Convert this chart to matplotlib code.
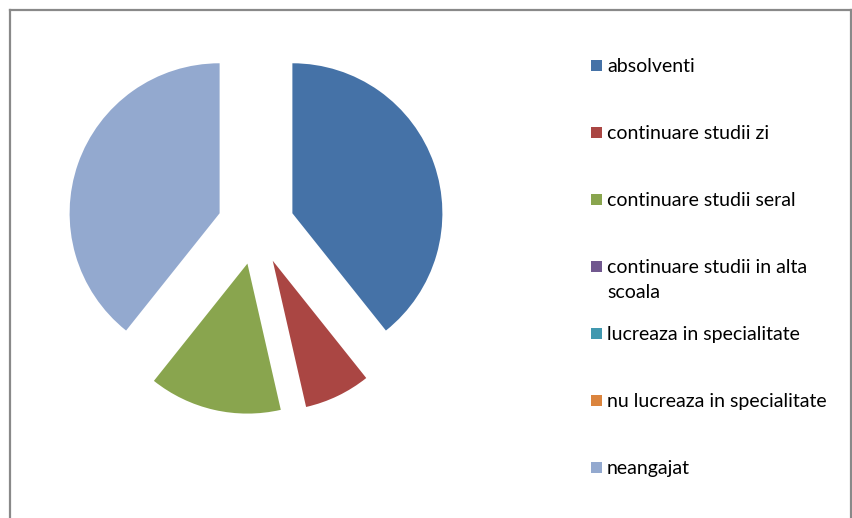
import matplotlib
matplotlib.use("Agg")
import matplotlib.pyplot as plt
from matplotlib.lines import Line2D
from matplotlib.patches import Rectangle

labels = ["absolventi", "continuare studii zi", "continuare studii seral",
          "continuare studii in alta\nscoala", "lucreaza in specialitate",
          "nu lucreaza in specialitate", "neangajat"]
values = [11, 2, 4, 0, 0, 0, 11]
colors = ["#4572A7", "#AA4643", "#89A54E", "#71588F", "#4198AF", "#DB843D", "#93A9CF"]

W, H = 852, 518
fig = plt.figure(figsize=(W / 100, H / 100), dpi=100)
plt.rcParams['font.family'] = ['Lato', 'DejaVu Sans']

# pie axes: 1 data unit = 150 px, centre at (256, 226) px from top-left
cx, cy, r = 256, 226, 150
half = 1.5 * r
ax = fig.add_axes([(cx - half) / W, (H - cy - half) / H, 2 * half / W, 2 * half / H])
ax.pie(values, colors=colors, startangle=90, counterclock=False,
       explode=[0.257] * len(values), radius=1.0,
       wedgeprops=dict(linewidth=0))
ax.set_xlim(-1.5, 1.5)
ax.set_ylim(-1.5, 1.5)
ax.set_aspect('equal')
ax.axis('off')

# legend drawn as a column of colour squares and labels
x_sq, x_txt, y0, dy, sq = 590.5, 607, 65, 67, 11
for i, (lab, col) in enumerate(zip(labels, colors)):
    y = y0 + dy * i
    fig.patches.append(Rectangle((x_sq / W, (H - y - sq / 2) / H), sq / W, sq / H,
                                 transform=fig.transFigure, facecolor=col,
                                 edgecolor='none'))
    fig.text(x_txt / W, (H - y + 7) / H, lab, fontsize=14, color='black',
             va='top', ha='left', linespacing=1.55)

# chart border
bc = '#898989'
fig.add_artist(Line2D([9.5 / W, 850.5 / W], [(H - 9.5) / H] * 2, color=bc, lw=1.6,
                      transform=fig.transFigure))
fig.add_artist(Line2D([9.5 / W] * 2, [0, (H - 9.5) / H], color=bc, lw=1.6,
                      transform=fig.transFigure))
fig.add_artist(Line2D([850.5 / W] * 2, [0, (H - 9.5) / H], color=bc, lw=1.6,
                      transform=fig.transFigure))

fig.savefig("out.png", dpi=100)
